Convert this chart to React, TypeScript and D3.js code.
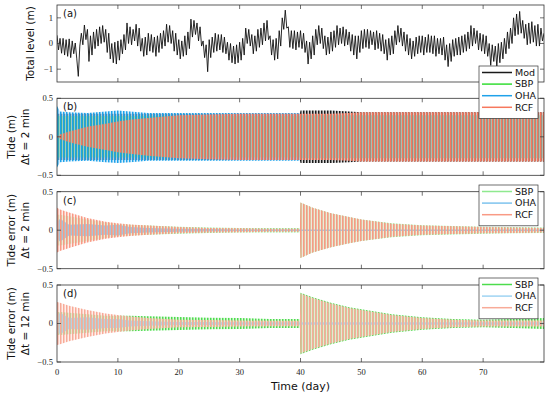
import React from "react";
import * as d3 from "d3";

// ---- data ----
const dayTicks = [0, 10, 20, 30, 40, 50, 60, 70];

// total water level (m), every quarter day from day 0 to day 80
const totalLevel = [
  0.32, -0.25, 0.2, -0.38,  0.2, -0.45, 0.15, -0.5,  0.18, -0.55, 0.1, -0.4,  0.02, -0.6, -1.28, -0.1,
  0.4, -0.05, 0.72, 0.15,  0.55, -0.7, 0.3, -0.45,  0.45, -0.2, 0.55, -0.1,  0.65, 0.0, 0.7, 0.05,
  0.55, -0.35, 0.4, -0.6,  0.0, -0.75, 0.05, -0.8,  0.1, -0.65, 0.15, -0.4,  0.35, -0.25, 0.8, 0.0,
  0.65, -0.05, 0.55, 0.1,  0.75, -0.1, 0.6, -0.3,  0.2, -0.5, 0.25, -0.45,  0.4, -0.3, 0.35, -0.35,
  0.25, -0.5, 0.3, -0.35,  0.4, -0.2, 0.5, -0.1,  0.75, 0.05, 0.7, 0.0,  0.5, -0.3, 0.4, -0.45,
  0.15, -0.6, 0.1, -0.5,  0.3, -0.45, 0.45, -0.2,  0.95, 0.25, 0.9, 0.35,  0.8, 0.1, 0.65, -0.1,
  0.1, -0.55, -0.05, -1.1,  0.15, -0.55, 0.25, -0.35,  0.4, -0.3, 0.35, -0.25,  0.35, -0.35, 0.25, -0.4,
  0.05, -0.65, 0.0, -0.75,  -0.1, -0.8, -0.05, -0.75,  0.05, -0.65, 0.2, -0.45,  0.6, 0.0, 0.55, -0.1,
  0.35, -0.4, 0.3, -0.3,  0.55, -0.15, 0.6, -0.05,  0.8, 0.1, 0.9, 0.15,  0.3, -0.45, 0.15, -0.65,
  0.2, -0.6, 0.5, -0.1,  1.0, 0.55, 1.3, 0.6,  0.65, -0.15, 0.5, -0.2,  0.5, -0.25, 0.45, -0.15,
  0.5, -0.2, 0.4, -0.35,  0.1, -0.8, 0.05, -0.6,  0.3, -0.45, 0.55, -0.05,  0.7, 0.0, 0.6, -0.2,
  0.3, -0.45, 0.25, -0.4,  0.45, -0.3, 0.5, -0.15,  0.7, -0.05, 0.6, 0.0,  0.65, -0.1, 0.55, -0.05,
  0.45, -0.3, 0.35, -0.45,  0.3, -0.6, 0.3, -0.35,  0.5, -0.2, 0.55, -0.15,  0.55, -0.2, 0.5, -0.05,
  0.45, -0.25, 0.5, -0.2,  0.4, -0.3, 0.35, -0.4,  0.15, -0.65, 0.2, -0.45,  0.3, -0.4, 0.5, -0.05,
  0.7, 0.05, 0.6, -0.1,  0.45, -0.3, 0.35, -0.45,  0.2, -0.6, 0.1, -0.5,  0.25, -0.4, 0.3, -0.35,
  0.3, -0.45, 0.25, -0.35,  0.35, -0.35, 0.3, -0.4,  0.3, -0.5, 0.2, -0.4,  0.2, -0.45, 0.25, -0.65,
  -0.05, -0.9, 0.0, -0.7,  0.15, -0.5, 0.2, -0.45,  0.25, -0.45, 0.3, -0.35,  0.35, -0.3, 0.45, -0.2,
  0.7, -0.1, 0.6, 0.0,  0.5, -0.25, 0.4, -0.3,  0.35, -0.4, 0.3, -0.5,  0.0, -0.85, -0.05, -0.7,
  -0.1, -0.9, 0.0, -0.75,  0.05, -0.6, 0.2, -0.4,  0.45, -0.2, 0.6, 0.0,  1.0, 0.3, 1.15, 0.35,
  1.25, 0.4, 0.9, 0.2,  0.75, -0.05, 0.8, 0.0,  0.85, 0.05, 0.7, -0.1,  0.75, -0.1, 0.6, 0.1,
  0.4,
];

// tidal envelope knots (day) and half-range amplitudes (m) for each series
const envDays = [0, 0.5, 2, 5, 8, 10, 12, 15, 20, 25, 30, 35, 39.9, 40, 42, 45, 48, 50, 55, 60, 65, 70, 75, 80];

const modB = [0.3, 0.3, 0.3, 0.3, 0.3, 0.3, 0.3, 0.3, 0.3, 0.3, 0.3, 0.3, 0.3, 0.34, 0.34, 0.34, 0.33, 0.32, 0.32, 0.32, 0.32, 0.32, 0.32, 0.32];
const sbpB = [0.27, 0.27, 0.27, 0.27, 0.27, 0.27, 0.27, 0.27, 0.27, 0.27, 0.27, 0.27, 0.27, 0.28, 0.28, 0.28, 0.28, 0.28, 0.28, 0.28, 0.28, 0.28, 0.28, 0.28];
const ohaB = [0.4, 0.33, 0.32, 0.31, 0.33, 0.34, 0.33, 0.31, 0.31, 0.31, 0.31, 0.31, 0.31, 0.28, 0.28, 0.28, 0.28, 0.28, 0.28, 0.28, 0.28, 0.28, 0.28, 0.28];
const rcfB = [0.0, 0.03, 0.07, 0.13, 0.17, 0.2, 0.22, 0.245, 0.28, 0.29, 0.3, 0.3, 0.3, 0.3, 0.3, 0.3, 0.31, 0.32, 0.32, 0.32, 0.32, 0.32, 0.32, 0.32];

const sbpC = [0.2, 0.2, 0.18, 0.14, 0.1, 0.08, 0.07, 0.06, 0.045, 0.035, 0.03, 0.03, 0.03, 0.36, 0.29, 0.22, 0.17, 0.14, 0.09, 0.065, 0.055, 0.045, 0.04, 0.035];
const ohaC = [0.1, 0.15, 0.07, 0.08, 0.06, 0.07, 0.04, 0.03, 0.02, 0.015, 0.01, 0.01, 0.01, 0.01, 0.01, 0.01, 0.01, 0.01, 0.01, 0.01, 0.01, 0.01, 0.01, 0.01];
const rcfC = [0.29, 0.27, 0.23, 0.16, 0.11, 0.09, 0.075, 0.06, 0.04, 0.03, 0.025, 0.02, 0.02, 0.36, 0.29, 0.22, 0.17, 0.14, 0.085, 0.06, 0.05, 0.04, 0.035, 0.03];

const sbpD = [0.15, 0.15, 0.14, 0.12, 0.1, 0.1, 0.1, 0.095, 0.085, 0.075, 0.07, 0.06, 0.06, 0.4, 0.34, 0.27, 0.21, 0.185, 0.12, 0.08, 0.06, 0.05, 0.06, 0.07];
const ohaD = [0.1, 0.14, 0.07, 0.08, 0.06, 0.06, 0.04, 0.03, 0.02, 0.02, 0.015, 0.015, 0.015, 0.015, 0.015, 0.015, 0.015, 0.015, 0.015, 0.015, 0.015, 0.015, 0.015, 0.015];
const rcfD = [0.28, 0.27, 0.23, 0.175, 0.13, 0.11, 0.09, 0.07, 0.05, 0.045, 0.04, 0.035, 0.035, 0.39, 0.33, 0.26, 0.2, 0.175, 0.11, 0.07, 0.05, 0.04, 0.04, 0.04];

// ---- layout ----
const X0 = 57, X1 = 544, PH = 77;
const tops = [5, 98.3, 191.7, 285];
const AX = "#333";
const SANS = "DejaVu Sans, sans-serif";
const SERIF = "Liberation Serif, DejaVu Serif, serif";
const STRIPE = 3; // px period of the drawn oscillation strokes

type Band = { amps: number[]; color: string; off: number };

const x = d3.scaleLinear().domain([0, 80]).range([X0, X1]);

function Frame({ top, yDomain, yTicks, label, lines, showX }: any) {
  const y = d3.scaleLinear().domain(yDomain).range([top + PH, top]);
  const fmt = d3.format("~g");
  const mid = top + PH / 2;
  return (
    <g>
      <rect x={X0} y={top} width={X1 - X0} height={PH} fill="none" stroke={AX} strokeWidth={0.8} />
      {dayTicks.slice(1).map((d) => (
        <g key={d} stroke={AX} strokeWidth={0.7}>
          <line x1={x(d)} x2={x(d)} y1={top + PH} y2={top + PH - 4} />
          <line x1={x(d)} x2={x(d)} y1={top} y2={top + 4} />
        </g>
      ))}
      {yTicks.map((v: number) => (
        <g key={v}>
          <line x1={X0} x2={X0 + 4} y1={y(v)} y2={y(v)} stroke={AX} strokeWidth={0.7} />
          <line x1={X1 - 4} x2={X1} y1={y(v)} y2={y(v)} stroke={AX} strokeWidth={0.7} />
          <text x={53} y={y(v)} dy="0.33em" textAnchor="end" fontFamily={SERIF} fontSize={8.5} fill="#222">
            {fmt(v)}
          </text>
        </g>
      ))}
      {showX &&
        dayTicks.map((d) => (
          <text key={d} x={x(d)} y={375} textAnchor="middle" fontFamily={SERIF} fontSize={8.5} fill="#222">
            {d}
          </text>
        ))}
      <text x={X0 + 6} y={top + 12} fontFamily={SANS} fontSize={10} fill="#111">
        {label}
      </text>
      {lines.length === 1 ? (
        <text transform={`translate(34,${mid}) rotate(-90)`} textAnchor="middle" fontFamily={SANS} fontSize={10.5} fill="#111">
          {lines[0]}
        </text>
      ) : (
        <g>
          <text transform={`translate(15,${mid}) rotate(-90)`} textAnchor="middle" fontFamily={SANS} fontSize={10.5} fill="#111">
            {lines[0]}
          </text>
          <text transform={`translate(29,${mid}) rotate(-90)`} textAnchor="middle" fontFamily={SANS} fontSize={10.5} fill="#111">
            {lines[1]}
          </text>
        </g>
      )}
    </g>
  );
}

function patId(color: string, off: number) {
  return `st${color.replace("#", "")}${String(off).replace(".", "_")}`;
}

function Bands({ top, bands, clip }: { top: number; bands: Band[]; clip: string }) {
  const y = d3.scaleLinear().domain([-0.5, 0.5]).range([top + PH, top]);
  const area = d3
    .area<number>()
    .x((_, i) => x(envDays[i]))
    .y0((a) => y(-a))
    .y1((a) => y(a));
  return (
    <g clipPath={`url(#${clip})`}>
      {bands.map((b, i) => (
        <path key={i} d={area(b.amps) || ""} fill={`url(#${patId(b.color, b.off)})`} />
      ))}
    </g>
  );
}

function Legend({ top, items }: { top: number; items: { name: string; color: string }[] }) {
  const h = items.length * 11.6 + 6;
  return (
    <g>
      <rect x={479} y={top} width={59} height={h} fill="#fff" stroke={AX} strokeWidth={0.7} />
      {items.map((it, i) => {
        const yy = top + 6.5 + i * 11.6;
        return (
          <g key={it.name}>
            <line x1={482} x2={512} y1={yy} y2={yy} stroke={it.color} strokeWidth={1.5} />
            <text x={515} y={yy} dy="0.35em" fontFamily={SANS} fontSize={9.5} fill="#111">
              {it.name}
            </text>
          </g>
        );
      })}
    </g>
  );
}

export default function App() {
  const yA = d3.scaleLinear().domain([-1.5, 1.5]).range([tops[0] + PH, tops[0]]);
  const levelDays = d3.range(totalLevel.length).map((i) => i * 0.25);
  const line = d3
    .line<number>()
    .x((_, i) => x(levelDays[i]))
    .y((v) => yA(v));

  const cB = { mod: "#1a1a1a", sbp: "#33dd33", oha: "#1fa2ea", rcf: "#f7785d" };
  const cC = { sbp: "#8fe98f", oha: "#7ec3ee", rcf: "#f99a85" };
  const cD = { sbp: "#4ddc4d", oha: "#9fd4f3", rcf: "#f8ab98" };

  const bandsB: Band[] = [
    { amps: modB, color: cB.mod, off: 0 },
    { amps: sbpB, color: cB.sbp, off: 0 },
    { amps: ohaB, color: cB.oha, off: 0 },
    { amps: rcfB, color: cB.rcf, off: 0 },
  ];
  const bandsC: Band[] = [
    { amps: sbpC, color: cC.sbp, off: 0 },
    { amps: ohaC, color: cC.oha, off: 1.5 },
    { amps: rcfC, color: cC.rcf, off: 0 },
  ];
  const bandsD: Band[] = [
    { amps: sbpD, color: cD.sbp, off: 0 },
    { amps: ohaD, color: cD.oha, off: 1.5 },
    { amps: rcfD, color: cD.rcf, off: 0 },
  ];
  const all = [...bandsB, ...bandsC, ...bandsD];
  const pats = Array.from(new Map(all.map((b) => [patId(b.color, b.off), b])).values());

  return (
    <svg width={550} height={396} style={{ position: "absolute", left: 0, top: 0, background: "#fff" }}>
      <defs>
        {tops.map((t, i) => (
          <clipPath id={`clip${i}`} key={i}>
            <rect x={X0} y={t} width={X1 - X0} height={PH} />
          </clipPath>
        ))}
        {pats.map((b) => (
          <pattern key={patId(b.color, b.off)} id={patId(b.color, b.off)} patternUnits="userSpaceOnUse" x={b.off} y={0} width={STRIPE} height={10}>
            <rect width={STRIPE} height={10} fill={b.color} opacity={0.18} />
            <rect width={1.5} height={10} fill={b.color} />
          </pattern>
        ))}
      </defs>

      <path d={line(totalLevel) || ""} fill="none" stroke="#111" strokeWidth={0.9} clipPath="url(#clip0)" />
      <Bands top={tops[1]} bands={bandsB} clip="clip1" />
      <Bands top={tops[2]} bands={bandsC} clip="clip2" />
      <Bands top={tops[3]} bands={bandsD} clip="clip3" />

      <Frame top={tops[0]} yDomain={[-1.5, 1.5]} yTicks={[-1, 0, 1]} label="(a)" lines={["Total level (m)"]} />
      <Frame top={tops[1]} yDomain={[-0.5, 0.5]} yTicks={[-0.5, 0, 0.5]} label="(b)" lines={["Tide (m)", "Δt = 2 min"]} />
      <Frame top={tops[2]} yDomain={[-0.5, 0.5]} yTicks={[-0.5, 0, 0.5]} label="(c)" lines={["Tide error (m)", "Δt = 2 min"]} />
      <Frame top={tops[3]} yDomain={[-0.5, 0.5]} yTicks={[-0.5, 0, 0.5]} label="(d)" lines={["Tide error (m)", "Δt = 12 min"]} showX />

      <text x={(X0 + X1) / 2} y={390} textAnchor="middle" fontFamily={SANS} fontSize={11} fill="#111">
        Time (day)
      </text>

      <Legend top={66} items={[
        { name: "Mod", color: cB.mod },
        { name: "SBP", color: cB.sbp },
        { name: "OHA", color: cB.oha },
        { name: "RCF", color: cB.rcf },
      ]} />
      <Legend top={185} items={[
        { name: "SBP", color: cC.sbp },
        { name: "OHA", color: cC.oha },
        { name: "RCF", color: cC.rcf },
      ]} />
      <Legend top={278} items={[
        { name: "SBP", color: cD.sbp },
        { name: "OHA", color: cD.oha },
        { name: "RCF", color: cD.rcf },
      ]} />
    </svg>
  );
}
